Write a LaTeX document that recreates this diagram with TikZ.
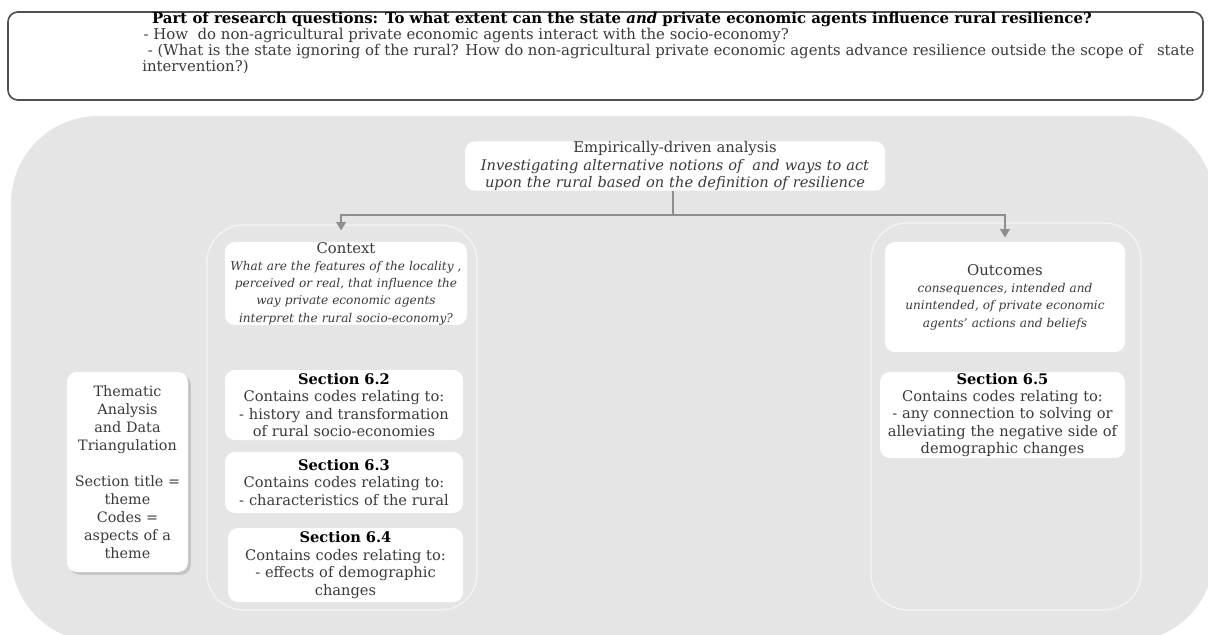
\documentclass[tikz,border=0pt]{standalone}
\usepackage{fontspec}
\setmainfont{DejaVu Serif}
\usetikzlibrary{
  arrows.meta,
  fit,
  shadows
}

\definecolor{panel}{HTML}{E5E5E5}
\definecolor{rimline}{HTML}{F4F4F4}
\definecolor{wirecol}{HTML}{8E8E8E}
\definecolor{ink}{HTML}{3A3A3A}
\definecolor{frame}{HTML}{505050}

\begin{document}
\begin{tikzpicture}[
  x=0.025cm, y=-0.025cm,
  >={Triangle[width=7pt,length=6pt]},
  card/.style={fill=white,rounded corners=7pt,inner sep=0pt,
    align=center,text=ink},
  boxsize/.style 2 args={minimum width={#1*0.025cm},
    minimum height={#2*0.025cm},text width={#1*0.025cm}},
  column/.style={draw=rimline,line width=0.9pt,rounded corners=26pt,
    inner sep=0pt},
  sectcard/.style={card,font=\fontsize{10.4}{12.4}\selectfont},
  headcard/.style={card,font=\itshape\fontsize{8.6}{12.3}\selectfont},
  wire/.style={draw=wirecol,line width=0.9pt},
  link/.style={wire,->}
]

\useasboundingbox (0,0) rectangle (1208,635);

%--------------------
% research questions
%--------------------
\node[draw=frame,line width=1.2pt,rounded corners=7pt,inner sep=0pt,
  fit={(8,12) (1203,100)}] (rq) {};
\node[anchor=north west,align=left,inner sep=0pt,text=ink,
  font=\fontsize{10.6}{10.1}\selectfont] (rqtext) at (142,12)
  {\hspace*{7pt}\textcolor{black}{\textbf{Part of research questions: To what extent can the state \textit{and} private economic agents influence rural resilience?}}\\
   \hspace*{1pt}- How\ \ do non-agricultural private economic agents interact with the socio-economy?\\
   \hspace*{4pt}- (What is the state ignoring of the rural? How do non-agricultural private economic agents advance resilience outside the scope of\ \ \ state\\
   intervention?)};

%--------------------
% analysis panel
%--------------------
\fill[panel,rounded corners=62pt] (11,116) rectangle (1214,642);

\node[column,fit={(207,225) (477,610)}] (ctxcol) {};
\node[column,fit={(871,223) (1141,610)}] (outcol) {};

\node[card,boxsize={420}{48},font=\fontsize{10.5}{12.4}\selectfont]
  (emp) at (675,166)
  {Empirically-driven analysis\\
   \textit{\fontsize{10.4}{12.4}\selectfont Investigating alternative notions of\ \ and ways to act}\\
   \textit{\fontsize{10.4}{12.4}\selectfont upon the rural based on the definition of resilience}};

% context column
\node[headcard,boxsize={242}{83}] (ctx) at (346,283.5)
  {{\upshape\fontsize{10.5}{12}\selectfont Context}\\
   What are the features of the locality ,\\
   perceived or real, that influence the\\
   way private economic agents\\
   interpret the rural socio-economy?};

\node[sectcard,boxsize={238}{70}] (s62) at (344,405)
  {\textbf{\textcolor{black}{Section 6.2}}\\
   Contains codes relating to:\\
   - history and transformation\\
   of rural socio-economies};
\node[sectcard,boxsize={238}{61}] (s63) at (344,482.5)
  {\textbf{\textcolor{black}{Section 6.3}}\\
   Contains codes relating to:\\
   - characteristics of the rural};
\node[sectcard,boxsize={235}{74}] (s64) at (345.5,565)
  {\textbf{\textcolor{black}{Section 6.4}}\\
   Contains codes relating to:\\
   - effects of demographic\\
   changes};

% outcomes column
\node[headcard,boxsize={240}{110}] (out) at (1005,297)
  {{\upshape\fontsize{10.6}{12}\selectfont Outcomes}\\
   consequences, intended and\\
   unintended, of private economic\\
   agents' actions and beliefs};

\node[sectcard,boxsize={245}{86}] (s65) at (1002.5,415)
  {\textbf{\textcolor{black}{Section 6.5}}\\
   Contains codes relating to:\\
   - any connection to solving or\\
   alleviating the negative side of\\
   demographic changes};

% method note
\node[sectcard,boxsize={121}{200},font=\fontsize{10.2}{12.8}\selectfont,
  drop shadow={shadow xshift=2pt,shadow yshift=-2pt,fill=black!35}]
  (theme) at (127.5,472)
  {Thematic\\ Analysis\\ and Data\\ Triangulation\\ \mbox{}\\
   Section title =\\ theme\\ Codes =\\ aspects of a\\ theme};

% links
\coordinate (fork) at (673,215);
\draw[wire] (emp.south -| fork) -- (fork);
\draw[link] (fork) -| ([xshift=-3.5pt,yshift=8pt]ctx.north);
\draw[link] (fork) -| ([yshift=3pt]out.north);

\end{tikzpicture}
\end{document}
